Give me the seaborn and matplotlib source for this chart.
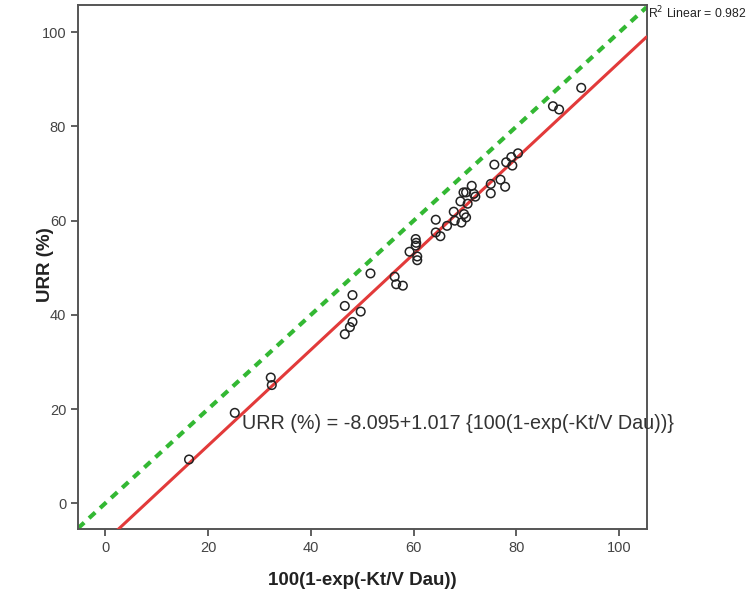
import numpy as np
import pandas as pd
import matplotlib
matplotlib.use("Agg")
import matplotlib.pyplot as plt
import seaborn as sns

# Data
kt_v = [16.3, 25.2, 32.2, 32.4, 46.6, 47.6, 48.1, 46.6, 48.1, 49.7,
        51.6, 56.3, 56.6, 57.9, 59.2, 60.4, 60.5, 60.4, 60.7, 60.7,
        64.3, 64.3, 65.2, 66.5, 68.0, 67.8, 69.3, 69.8, 70.2, 69.1,
        70.5, 69.7, 70.2, 71.3, 71.7, 75.0, 75.0, 76.9, 77.8, 75.7,
        78.0, 79.2, 79.0, 80.3, 87.1, 88.3, 92.6, 72.0]
urr = [9.3, 19.2, 26.7, 25.1, 35.9, 37.4, 38.5, 41.9, 44.2, 40.7,
       48.8, 48.1, 46.5, 46.2, 53.4, 56.1, 55.3, 54.7, 52.4, 51.6,
       60.2, 57.5, 56.7, 58.9, 60.0, 61.9, 59.6, 61.4, 60.7, 64.1,
       63.6, 66.0, 66.0, 67.4, 65.7, 65.8, 67.8, 68.7, 67.2, 71.9,
       72.4, 71.7, 73.5, 74.3, 84.3, 83.6, 88.2, 65.1]
fit_intercept = -8.095
fit_slope = 1.017
r2 = 0.982
x_ticks = [0, 20, 40, 60, 80, 100]
y_ticks = [0, 20, 40, 60, 80, 100]

sns.set_theme(style="white")
plt.rcParams['font.family'] = ['Liberation Sans', 'DejaVu Sans']

df = pd.DataFrame({"x": kt_v, "y": urr})

fig = plt.figure(figsize=(7.5, 6), dpi=100)
ax = fig.add_axes([0.104, 0.118, 0.758, 0.873])

xlim = (-5.3, 105.3)
ylim = (-5.5, 105.7)

lx = np.array(xlim)
# identity line
sns.lineplot(x=lx, y=lx, ax=ax, color="#33b833", lw=3.0, linestyle=(0, (2.0, 1.6)), zorder=2)
# fit line
sns.lineplot(x=lx, y=fit_intercept + fit_slope * lx, ax=ax, color="#e23a3a", lw=2.2, zorder=3)

sns.scatterplot(data=df, x="x", y="y", ax=ax, marker="o", s=38,
                facecolor="none", edgecolor="#222222", linewidth=1.1, zorder=4)

ax.set_xlim(*xlim)
ax.set_ylim(*ylim)
ax.set_xticks(x_ticks)
ax.set_yticks(y_ticks)
ax.tick_params(axis="both", which="both", direction="out", length=5, width=1.2,
               color="#444444", labelcolor="#444444", labelsize=10.5, bottom=True, left=True)
for sp in ax.spines.values():
    sp.set_color("#555555")
    sp.set_linewidth(1.4)

ax.set_xlabel("100(1-exp(-Kt/V Dau))", fontsize=13.5, fontweight="bold", color="#222222", labelpad=12)
ax.set_ylabel("URR (%)", fontsize=13.5, fontweight="bold", color="#222222")
ax.yaxis.set_label_coords(-0.042, 0.505)

ax.text(26.6, 17.0, "URR (%) = -8.095+1.017 {100(1-exp(-Kt/V Dau))}",
        fontsize=14.2, color="#333333", ha="left", va="center", zorder=5)
ax.text(1.002, 0.985, "R$^2$ Linear = %.3f" % r2, transform=ax.transAxes,
        fontsize=8.8, color="#222222", ha="left", va="center", clip_on=False)

fig.savefig("out.png", dpi=100)
